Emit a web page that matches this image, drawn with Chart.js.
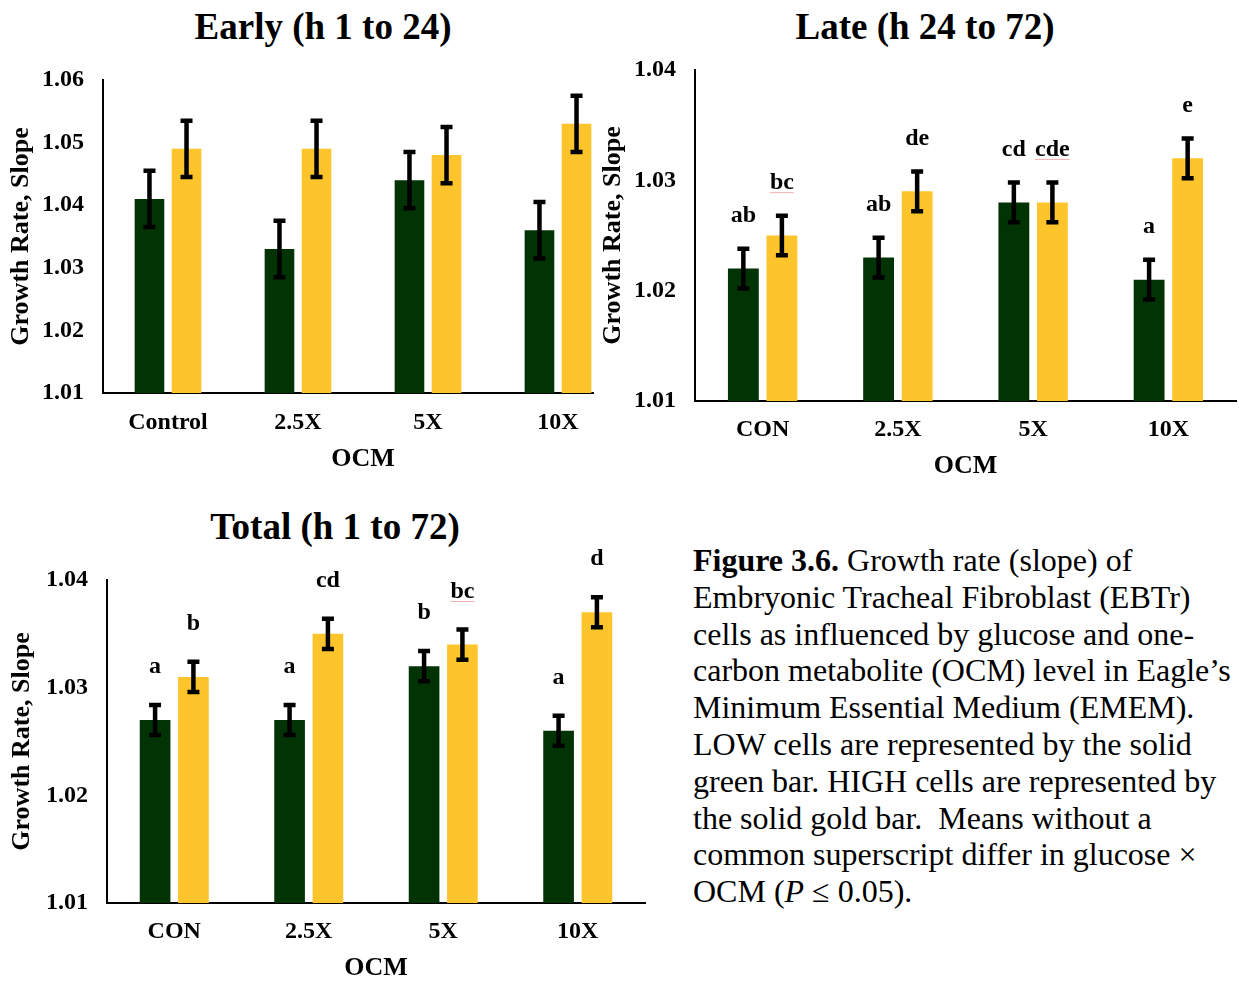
<!DOCTYPE html>
<html>
<head>
<meta charset="utf-8">
<script src="https://cdn.jsdelivr.net/npm/chart.js@4"></script>
<style>
  body { margin: 0; width: 1239px; height: 981px; background: #fff; overflow: hidden; position: relative;
         font-family: 'Liberation Serif', 'Times New Roman', serif; color: #000; }
  .title { position: absolute; width: 400px; text-align: center; font-weight: bold; font-size: 37px; line-height: 40px; white-space: nowrap; }
  canvas { position: absolute; }
  #clip1 { position: absolute; left: 0; top: 0; width: 594px; height: 482px; overflow: hidden; }
  #caption { position: absolute; left: 693px; top: 542px; font-size: 32px; line-height: 36.8px; white-space: nowrap; }
</style>
</head>
<body>
<div class="title" style="left:123px; top:7px;">Early (h 1 to 24)</div>
<div class="title" style="left:725px; top:7px;">Late (h 24 to 72)</div>
<div class="title" style="left:135px; top:507px;">Total (h 1 to 72)</div>

<div id="clip1"><canvas id="early" width="623" height="480" style="left:0;top:0"></canvas></div>
<canvas id="late" width="645" height="486" style="left:594px;top:0"></canvas>
<canvas id="total" width="650" height="498" style="left:0;top:490px"></canvas>

<div id="caption"><b>Figure 3.6.</b> Growth rate (slope) of<br>
Embryonic Tracheal Fibroblast (EBTr)<br>
cells as influenced by glucose and one-<br>
carbon metabolite (OCM) level in Eagle’s<br>
Minimum Essential Medium (EMEM).<br>
LOW cells are represented by the solid<br>
green bar. HIGH cells are represented by<br>
the solid gold bar.&nbsp; Means without a<br>
common superscript differ in glucose ×<br>
OCM (<i>P</i> ≤ 0.05).</div>

<script>
// data
const earlyLabels = ['Control', '2.5X', '5X', '10X'];
const earlyLow = [1.041, 1.033, 1.044, 1.036];
const earlyHigh = [1.049, 1.049, 1.048, 1.053];
const earlyLowErr = [0.0045, 0.0045, 0.0045, 0.0045];
const earlyHighErr = [0.0045, 0.0045, 0.0045, 0.0045];

const lateLabels = ['CON', '2.5X', '5X', '10X'];
const lateLow = [1.022, 1.023, 1.028, 1.021];
const lateHigh = [1.025, 1.029, 1.028, 1.032];
const lateLowErr = [0.0018, 0.0018, 0.0018, 0.0018];
const lateHighErr = [0.0018, 0.0018, 0.0018, 0.0018];
const lateLowLetters = ['ab', 'ab', 'cd', 'a'];
const lateHighLetters = ['bc', 'de', 'cde', 'e'];

const totalLabels = ['CON', '2.5X', '5X', '10X'];
const totalLow = [1.027, 1.027, 1.032, 1.026];
const totalHigh = [1.031, 1.035, 1.034, 1.037];
const totalLowErr = [0.0014, 0.0014, 0.0014, 0.0014];
const totalHighErr = [0.0014, 0.0014, 0.0014, 0.0014];
const totalLowLetters = ['a', 'a', 'b', 'a'];
const totalHighLetters = ['b', 'cd', 'bc', 'd'];

const GREEN = '#013304';
const GOLD = '#FEC42B';
const FONT = "'Liberation Serif', 'Times New Roman', serif";
const spellFlagged = ['bc', 'cde'];

// error bars + significance letters
const errorBarPlugin = {
  id: 'errorBars',
  afterDatasetsDraw(chart, args, opts) {
    const ctx = chart.ctx;
    const y = chart.scales.y;
    ctx.save();
    chart.data.datasets.forEach((ds, di) => {
      const meta = chart.getDatasetMeta(di);
      meta.data.forEach((bar, i) => {
        const v = ds.data[i], e = ds.errors[i];
        const top = y.getPixelForValue(v + e);
        const bot = y.getPixelForValue(v - e);
        ctx.strokeStyle = '#000';
        ctx.lineWidth = 4.5;
        ctx.lineCap = 'butt';
        ctx.beginPath();
        ctx.moveTo(bar.x, top); ctx.lineTo(bar.x, bot);
        ctx.moveTo(bar.x - 6, top); ctx.lineTo(bar.x + 6, top);
        ctx.moveTo(bar.x - 6, bot); ctx.lineTo(bar.x + 6, bot);
        ctx.stroke();
        if (ds.letters) {
          const txt = ds.letters[i];
          const ly = top - opts.letterGap;
          ctx.fillStyle = '#000';
          ctx.font = 'bold 24px ' + FONT;
          ctx.textAlign = 'center';
          ctx.textBaseline = 'middle';
          ctx.fillText(txt, bar.x, ly);
          if (spellFlagged.includes(txt)) {
            const w = ctx.measureText(txt).width;
            ctx.strokeStyle = '#f4b0b0';
            ctx.lineWidth = 1;
            ctx.beginPath();
            ctx.moveTo(bar.x - w / 2, ly + 10); ctx.lineTo(bar.x + w / 2, ly + 10);
            ctx.stroke();
          }
        }
      });
    });
    ctx.restore();
  }
};

function makeChart(id, labels, low, high, lowErr, highErr, lowLetters, highLetters, cfg) {
  new Chart(document.getElementById(id), {
    type: 'bar',
    data: {
      labels: labels,
      datasets: [
        { label: 'LOW', data: low, errors: lowErr, letters: lowLetters, backgroundColor: GREEN },
        { label: 'HIGH', data: high, errors: highErr, letters: highLetters, backgroundColor: GOLD }
      ]
    },
    options: {
      responsive: false,
      animation: false,
      devicePixelRatio: 1,
      categoryPercentage: 0.57,
      barPercentage: 0.8,
      layout: { padding: cfg.padding },
      plugins: {
        legend: { display: false },
        tooltip: { enabled: false },
        errorBars: { letterGap: cfg.letterGap }
      },
      scales: {
        x: {
          grid: { display: false, drawTicks: false },
          border: { display: true, color: '#000', width: 2 },
          ticks: { color: '#000', padding: cfg.xTickPad, font: { family: FONT, size: 24, weight: 'bold' } },
          title: { display: true, text: 'OCM', color: '#000', padding: { top: 4, bottom: cfg.xTitlePad },
                   font: { family: FONT, size: 26, weight: 'bold' } },
          afterFit: s => { s.height = cfg.xHeight; }
        },
        y: {
          min: 1.01, max: cfg.yMax,
          grid: { display: false, drawTicks: false },
          border: { display: true, color: '#000', width: 2 },
          ticks: { stepSize: 0.01, color: '#000', padding: 19, callback: v => v.toFixed(2),
                   font: { family: FONT, size: 24, weight: 'bold' } },
          title: { display: true, text: 'Growth Rate, Slope', color: '#000', padding: 4,
                   font: { family: FONT, size: 26, weight: 'bold' } },
          afterFit: s => { s.width = cfg.yWidth; }
        }
      }
    },
    plugins: [errorBarPlugin]
  });
}

makeChart('early', earlyLabels, earlyLow, earlyHigh, earlyLowErr, earlyHighErr, null, null,
  { padding: { left: 2, top: 80, right: 0, bottom: 0 }, yMax: 1.06, yWidth: 101, xHeight: 87, xTickPad: 15, xTitlePad: 5, letterGap: 33 });
makeChart('late', lateLabels, lateLow, lateHigh, lateLowErr, lateHighErr, lateLowLetters, lateHighLetters,
  { padding: { left: 0, top: 70, right: 3, bottom: 0 }, yMax: 1.04, yWidth: 101, xHeight: 85, xTickPad: 14, xTitlePad: 4, letterGap: 33 });
makeChart('total', totalLabels, totalLow, totalHigh, totalLowErr, totalHighErr, totalLowLetters, totalHighLetters,
  { padding: { left: 3, top: 90, right: 5, bottom: 0 }, yMax: 1.04, yWidth: 104, xHeight: 85, xTickPad: 14, xTitlePad: 4, letterGap: 38 });
</script>
</body>
</html>
